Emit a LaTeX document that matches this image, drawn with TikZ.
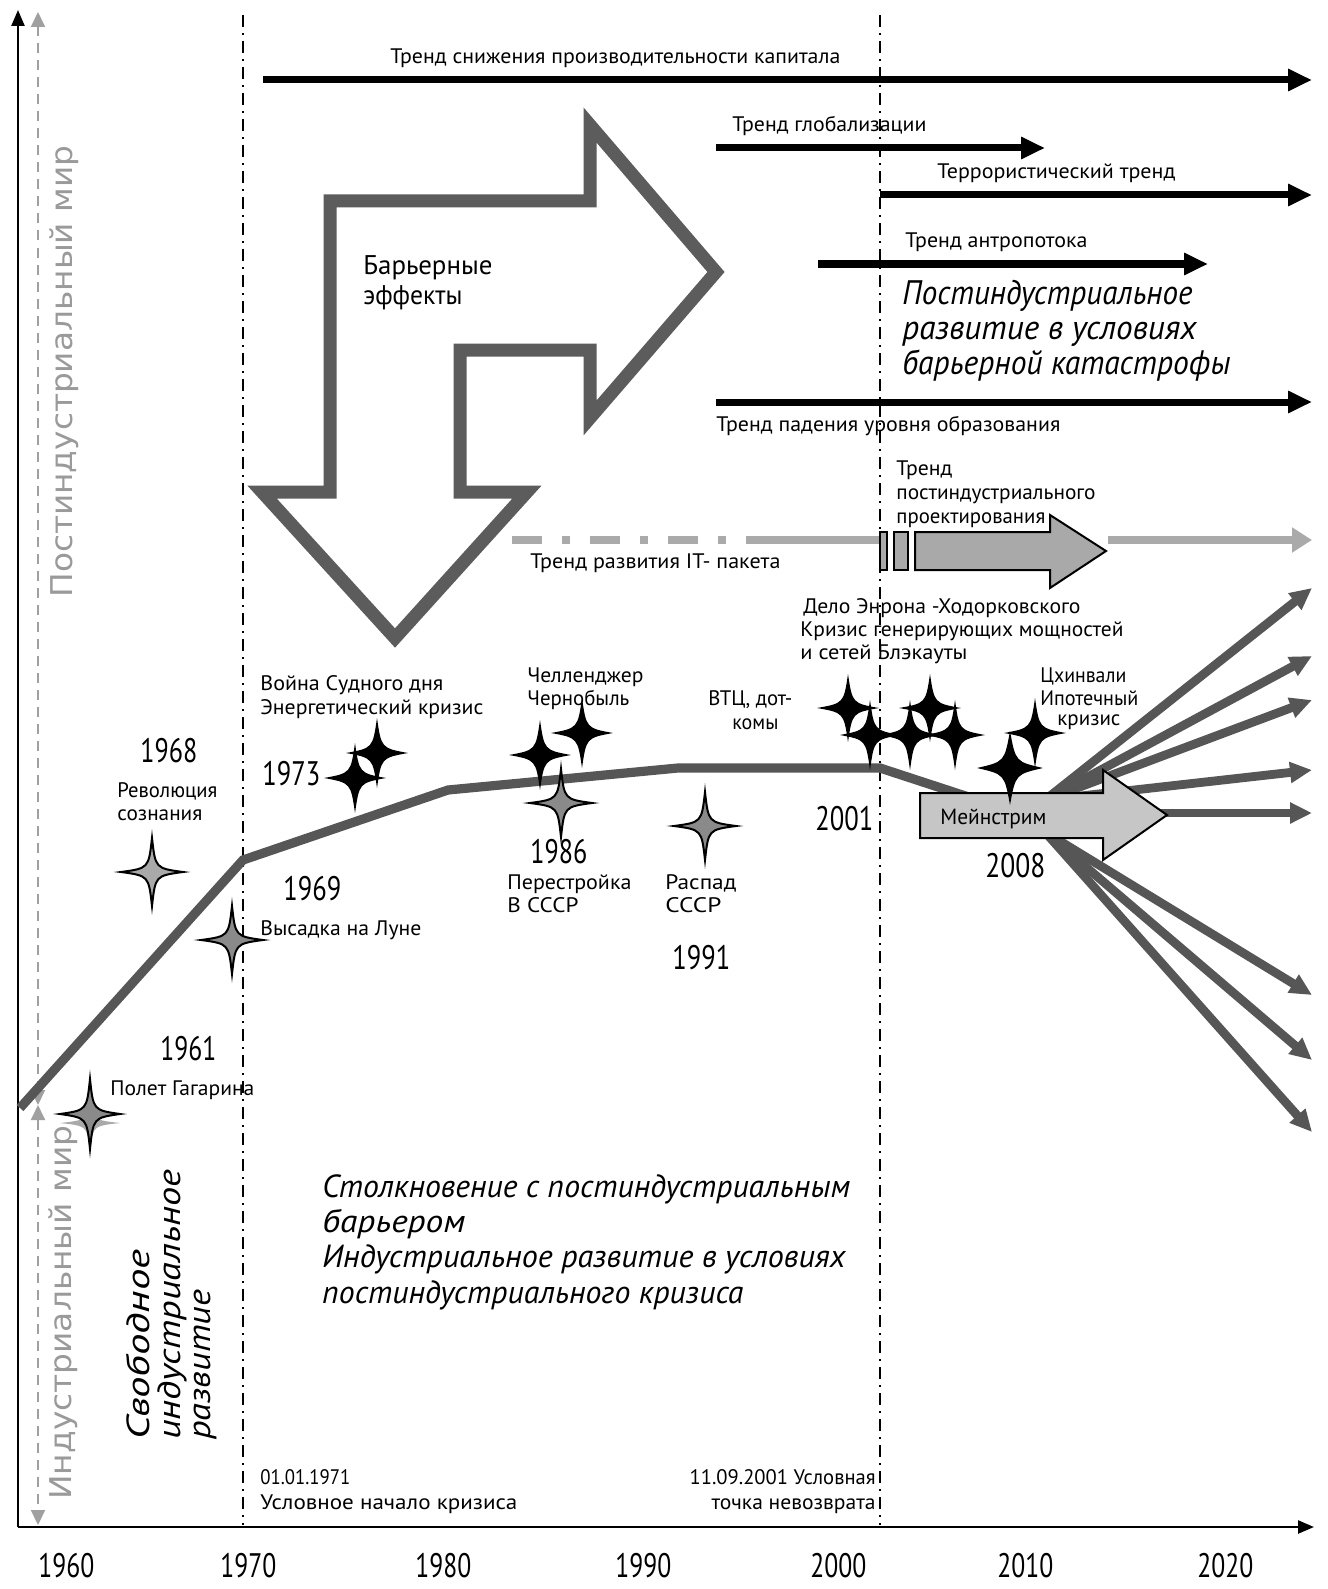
\documentclass[tikz,border=0pt]{standalone}
\usepackage{fontspec}
\usepackage{graphicx}
\setmainfont{PT Sans}
\newfontfamily\widefont{DejaVu Sans}
\usetikzlibrary{arrows.meta}
\definecolor{dk}{HTML}{565656}
\definecolor{barc}{HTML}{5C5C5C}
\definecolor{stargrey}{HTML}{8A8A8A}
\definecolor{starlight}{HTML}{A9A9A9}
\definecolor{mainfill}{HTML}{C6C6C6}
\definecolor{projfill}{HTML}{A9A9A9}
\definecolor{itgrey}{HTML}{AAAAAA}
\definecolor{txtgrey}{HTML}{9A9A9A}
\definecolor{axgrey}{HTML}{A0A0A0}
\newcommand\ftxt[3]{\resizebox{#1pt}{\height}{\fontsize{#2}{#2}\selectfont #3}}
\tikzset{
  lb/.style={inner sep=0pt, anchor=base west},
  lbr/.style={inner sep=0pt, anchor=base east},
  rot/.style={inner sep=0pt, anchor=base west, rotate=90},
  axis/.style={line width=1.2pt, -{Triangle[length=8pt,width=6.5pt]}},
  greydash/.style={draw=axgrey, line width=1pt, dash pattern=on 5pt off 3.5pt,
     {Triangle[length=7.5pt,width=7pt]}-{Triangle[length=7.5pt,width=7pt]}},
  dashdotline/.style={line width=0.8pt, dash pattern=on 6pt off 3pt on 1pt off 3pt},
  mainline/.style={draw=dk, line width=4.6pt, line join=miter},
  trend/.style={line width=3.5pt, -{Triangle[length=12pt,width=10.5pt]}},
  fan/.style={draw=dk, line width=4.4pt, -{Triangle[length=11pt,width=10pt]}},
  itline/.style={draw=itgrey, line width=4pt},
  gstar/.style={fill=stargrey, draw=black, line width=1pt},
  lstar/.style={fill=starlight, draw=black, line width=1pt},
  bstar/.style={fill=black},
  pics/fourstar/.style n args={3}{code={
    \path[pic actions] (0,-#2) .. controls (#3*#1,-#3*#2) and (#3*#1,-#3*#2) .. (#1,0)
      .. controls (#3*#1,#3*#2) and (#3*#1,#3*#2) .. (0,#2)
      .. controls (-#3*#1,#3*#2) and (-#3*#1,#3*#2) .. (-#1,0)
      .. controls (-#3*#1,-#3*#2) and (-#3*#1,-#3*#2) .. (0,-#2) -- cycle;
  }}
}
\begin{document}
\begin{tikzpicture}[x=0.5pt,y=-0.5pt]
\fill[white] (0,0) rectangle (1327,1589);
\useasboundingbox (0,0) rectangle (1327,1589);

% ---- axes
\coordinate (O) at (18,1527);
\coordinate (Ytop) at (18,10);
\coordinate (Xend) at (1314,1527);
\draw[axis] (O) -- (Ytop);
\draw[axis] (O) -- (Xend);

% grey dashed world axis
\coordinate (G0) at (38,1105);
\coordinate (Gt) at (38,12);
\coordinate (Gb) at (38,1525);
\draw[greydash] (G0) -- (Gt);
\draw[greydash] (G0) -- (Gb);

% dash-dot vertical lines
\coordinate (D1a) at (243,15);
\coordinate (D1b) at (243,1525);
\coordinate (D2a) at (880,15);
\coordinate (D2b) at (880,1525);
\draw[dashdotline] (D1a) -- (D1b);
\draw[dashdotline] (D2a) -- (D2b);

% ---- black trend arrows
\coordinate (T1a) at (263,80);  \coordinate (T1b) at (1312,80);
\coordinate (T2a) at (716,148); \coordinate (T2b) at (1045,148);
\coordinate (T3a) at (880,195); \coordinate (T3b) at (1312,195);
\coordinate (T4a) at (818,264); \coordinate (T4b) at (1208,264);
\coordinate (T5a) at (716,402); \coordinate (T5b) at (1312,402);
\draw[trend] (T1a) -- (T1b);
\draw[trend] (T2a) -- (T2b);
\draw[trend] (T3a) -- (T3b);
\draw[trend] (T4a) -- (T4b);
\draw[trend] (T5a) -- (T5b);

% ---- barrier double arrow
\draw[barc, line width=6.5pt, fill=white, line join=miter, miter limit=4]
  (330,201) -- (590,201) -- (590,125) -- (716,272) -- (590,418) -- (590,350)
  -- (460,350) -- (460,492) -- (527,492) -- (395,638) -- (262,492) -- (330,492) -- cycle;

% ---- IT trend line
\coordinate (I0) at (512,540);
\coordinate (I1) at (746,540);
\coordinate (I2) at (880,540);
\coordinate (I3) at (1108,540);
\coordinate (I4) at (1312,540);
\draw[itline, dash pattern=on 15pt off 10pt on 4pt off 10pt] (I0) -- (I1);
\draw[itline] (I1) -- (I2);
\draw[itline, -{Triangle[length=10pt,width=12pt]}] (I3) -- (I4);
% projection arrow
\draw[fill=projfill, line width=1pt] (880,532) rectangle (887,570);
\draw[fill=projfill, line width=1pt] (894,532) rectangle (908,570);
\draw[fill=projfill, line width=1pt, line join=miter]
  (915,532) -- (1050,532) -- (1050,515) -- (1106,551) -- (1050,588) -- (1050,570) -- (915,570) -- cycle;

% ---- main development curve
\coordinate (m0) at (20,1108);
\coordinate (m1) at (243,860);
\coordinate (m2) at (448,790);
\coordinate (m3) at (678,768);
\coordinate (m4) at (880,768);
\coordinate (m5) at (1045,822);
\draw[mainline] (m0) -- (m1) -- (m2) -- (m3) -- (m4) -- (m5);

% ---- fan of scenarios
\coordinate (fu) at (1045,800);
\coordinate (fm) at (1045,813);
\coordinate (fl) at (1045,832);
\coordinate (e1) at (1312,588);
\coordinate (e2) at (1312,656);
\coordinate (e3) at (1312,700);
\coordinate (e4) at (1312,770);
\coordinate (e5) at (1312,813);
\coordinate (e6) at (1312,995);
\coordinate (e7) at (1312,1060);
\coordinate (e8) at (1312,1132);
\draw[fan] (fu) -- (e1);
\draw[fan] (fu) -- (e2);
\draw[fan] (fu) -- (e3);
\draw[fan] (fu) -- (e4);
\draw[fan] (fm) -- (e5);
\draw[fan] (fl) -- (e6);
\draw[fan] (fl) -- (e7);
\draw[fan] (fl) -- (e8);

% ---- mainstream arrow
\draw[fill=mainfill, line width=1pt, line join=miter]
  (920,793) -- (1103,793) -- (1103,770) -- (1167,815) -- (1103,860) -- (1103,838) -- (920,838) -- cycle;

% ---- stars
\pic[fill=starlight] at (90,1123) {fourstar={30}{24}{0.12}};
\pic[gstar] at (90,1114) {fourstar={30}{35}{0.11}};
\pic[lstar] at (152,872) {fourstar={31}{34}{0.11}};
\pic[gstar] at (232,940) {fourstar={31}{34}{0.11}};
\pic[gstar] at (561,803) {fourstar={31}{34}{0.11}};
\pic[gstar] at (705,826) {fourstar={31}{34}{0.11}};

\pic[bstar] at (377,753) {fourstar={31}{35}{0.14}};
\pic[bstar] at (355,778) {fourstar={31}{35}{0.14}};
\pic[bstar] at (540,755) {fourstar={31}{35}{0.14}};
\pic[bstar] at (582,733) {fourstar={31}{35}{0.14}};
\pic[bstar] at (848,708) {fourstar={31}{34}{0.14}};
\pic[bstar] at (870,735) {fourstar={30}{35}{0.14}};
\pic[bstar] at (910,735) {fourstar={30}{35}{0.14}};
\pic[bstar] at (930,708) {fourstar={31}{34}{0.14}};
\pic[bstar] at (955,735) {fourstar={30}{35}{0.14}};
\pic[bstar] at (1010,768) {fourstar={33}{37}{0.17}};
\pic[bstar] at (1035,733) {fourstar={31}{35}{0.14}};

% ---- rotated labels
\node[rot, text=txtgrey] (pim) at (72,598) {\ftxt{226}{15}{\widefont Постиндустриальный мир}};
\node[rot, text=txtgrey] (im) at (71,1500) {\ftxt{187}{15}{\widefont Индустриальный мир}};
\node[rot] (sv1) at (149,1440) {\ftxt{95}{16}{\itshape Свободное}};
\node[rot] (sv2) at (180,1440) {\ftxt{135}{16}{\itshape индустриальное}};
\node[rot] (sv3) at (210,1440) {\ftxt{75}{16}{\itshape развитие}};

% ---- trend labels
\node[lb] (tl1) at (390,64) {\ftxt{225}{10.5}{Тренд  снижения  производительности  капитала}};
\node[lb] (tl2) at (732,132) {\ftxt{97}{10.5}{Тренд  глобализации}};
\node[lb] (tl3) at (937,179) {\ftxt{119}{10.5}{Террористический  тренд}};
\node[lb] (tl4) at (905,247) {\ftxt{91}{10.5}{Тренд  антропотока}};
\node[lb] (pb1) at (902,304) {\ftxt{145}{17}{\itshape Постиндустриальное}};
\node[lb] (pb2) at (902,339) {\ftxt{147}{17}{\itshape развитие  в  условиях}};
\node[lb] (pb3) at (902,374) {\ftxt{164}{17}{\itshape барьерной катастрофы}};
\node[lb] (tl5) at (716,431) {\ftxt{172}{10.5}{Тренд  падения  уровня образования}};
\node[lb] (pr1) at (896,475) {\ftxt{28}{10.5}{Тренд}};
\node[lb] (pr2) at (896,499) {\ftxt{99.5}{10.5}{постиндустриального}};
\node[lb] (pr3) at (896,523) {\ftxt{74.5}{10.5}{проектирования}};
\node[lb] (itl) at (530,568) {\ftxt{125}{10.5}{Тренд  развития  IT- пакета}};
\node[lb] (bar1) at (363,274) {\ftxt{64.5}{13.5}{Барьерные}};
\node[lb] (bar2) at (363,304) {\ftxt{49.5}{13.5}{эффекты}};

% ---- events
\node[lb] (en1) at (803,613) {\ftxt{138.5}{10.5}{Дело Энрона -Ходорковского}};
\node[lb] (en2) at (800,636) {\ftxt{161.5}{10.5}{Кризис генерирующих  мощностей}};
\node[lb] (en3) at (800,659) {\ftxt{83.5}{10.5}{и  сетей  Блэкауты}};
\node[lb] (ev1) at (260,690) {\ftxt{91.5}{10.5}{Война  Судного  дня}};
\node[lb] (ev2) at (260,714) {\ftxt{111.5}{10.5}{Энергетический  кризис}};
\node[lb] (ch1) at (527,682) {\ftxt{58}{10.5}{Челленджер}};
\node[lb] (ch2) at (527,705) {\ftxt{51}{10.5}{Чернобыль}};
\node[lb] (vt1) at (708,705) {\ftxt{42}{10.5}{ВТЦ, дот-}};
\node[lb] (vt2) at (732,729) {\ftxt{23}{10.5}{комы}};
\node[lb] (ts1) at (1040,682) {\ftxt{43}{10.5}{Цхинвали}};
\node[lb] (ts2) at (1040,705) {\ftxt{49}{10.5}{Ипотечный}};
\node[lb] (ts3) at (1057,725) {\ftxt{31.5}{10.5}{кризис}};
\node[lb] (rev1) at (117,797) {\ftxt{50}{10.5}{Революция}};
\node[lb] (rev2) at (117,820) {\ftxt{42.5}{10.5}{сознания}};
\node[lb] (vis) at (260,935) {\ftxt{80.5}{10.5}{Высадка  на  Луне}};
\node[lb] (gag) at (110,1095) {\ftxt{72}{10.5}{Полет  Гагарина}};
\node[lb] (per1) at (507,889) {\ftxt{62}{10.5}{Перестройка}};
\node[lb] (per2) at (507,912) {\ftxt{35.5}{10.5}{В  СССР}};
\node[lb] (ras1) at (665,889) {\ftxt{35.5}{10.5}{Распад}};
\node[lb] (ras2) at (665,912) {\ftxt{28}{10.5}{СССР}};
\node[lb] (mein) at (940,824) {\ftxt{53}{11}{Мейнстрим}};

% ---- event years
\node[lb] (y68) at (140,762) {\ftxt{28.5}{17}{1968}};
\node[lb] (y73) at (262,785) {\ftxt{29}{17}{1973}};
\node[lb] (y69) at (283,900) {\ftxt{29}{17}{1969}};
\node[lb] (y61) at (160,1060) {\ftxt{28}{17}{1961}};
\node[lb] (y86) at (530,863) {\ftxt{28.5}{17}{1986}};
\node[lb] (y91) at (672,969) {\ftxt{29}{17}{1991}};
\node[lb] (y01) at (815,830) {\ftxt{29}{17}{2001}};
\node[lb] (y08) at (985,877) {\ftxt{30}{17}{2008}};

% ---- lower italic block
\node[lb] (st1) at (322,1197) {\ftxt{264}{16}{\itshape Столкновение  с постиндустриальным}};
\node[lb] (st2) at (322,1232) {\ftxt{71.5}{16}{\itshape барьером}};
\node[lb] (st3) at (322,1267) {\ftxt{261.5}{16}{\itshape Индустриальное  развитие  в  условиях}};
\node[lb] (st4) at (322,1303) {\ftxt{210.5}{16}{\itshape постиндустриального кризиса}};

% ---- dates
\node[lb] (d1) at (260,1484) {\ftxt{45}{10.5}{01.01.1971}};
\node[lb] (d2) at (260,1509) {\ftxt{128.5}{10.5}{Условное  начало  кризиса}};
\node[lbr] (d3) at (876,1484) {\ftxt{93}{10.5}{11.09.2001  Условная}};
\node[lbr] (d4) at (876,1509) {\ftxt{82}{10.5}{точка невозврата}};

% ---- axis years
\node[lb] (x60) at (38,1577) {\ftxt{28}{17}{1960}};
\node[lb] (x70) at (220,1577) {\ftxt{28}{17}{1970}};
\node[lb] (x80) at (415,1577) {\ftxt{28}{17}{1980}};
\node[lb] (x90) at (615,1577) {\ftxt{28}{17}{1990}};
\node[lb] (x00) at (810,1577) {\ftxt{28}{17}{2000}};
\node[lb] (x10) at (997,1577) {\ftxt{28}{17}{2010}};
\node[lb] (x20) at (1197,1577) {\ftxt{28}{17}{2020}};
\end{tikzpicture}
\end{document}
